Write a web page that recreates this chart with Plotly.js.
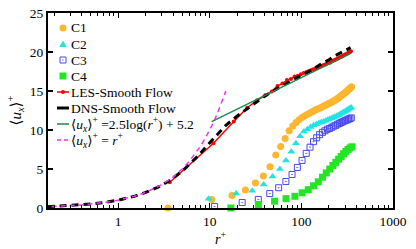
<!DOCTYPE html>
<html>
<head>
<meta charset="utf-8">
<script src="https://cdn.plot.ly/plotly-3.0.1.min.js"></script>
<style>html,body{margin:0;padding:0;background:#fff;}#chart{width:416px;height:249px;}</style>
</head>
<body>
<div id="chart"></div>
<script>
// C1 (orange circles)
const c1_r = [3.5,10.5,17.5,24.5,31.5,38.5,45.5,52.5,59.5,66.5,73.5,80.5,87.5,94.5,101.5,108.5,115.5,122.5,129.5,136.5,143.5,150.5,157.5,164.5,171.5,178.5,185.5,192.5,199.5,206.5,213.5,220.5,227.5,234.5,241.5,248.5,255.5,262.5,269.5,276.5,283.5,290.5,297.5,304.5,311.5,318.5,325.5,332.5,339.5,346.5,353.5];
const c1_u = [0,1.1,1.6,2.3,3.2,4.1,5.3,6.8,7.9,8.9,9.9,10.5,10.95,11.3,11.6,11.8,12.0,12.15,12.3,12.45,12.6,12.7,12.8,12.9,13.0,13.1,13.2,13.3,13.4,13.45,13.55,13.65,13.75,13.85,13.95,14.05,14.15,14.25,14.35,14.45,14.55,14.65,14.75,14.85,14.95,15.05,15.15,15.25,15.35,15.45,15.55];
// C2 (cyan triangles)
const c2_r = [9.7,19.4,29.1,38.8,48.5,58.2,67.9,77.6,87.3,97,106.7,116.4,126.1,135.8,145.5,155.2,164.9,174.6,184.3,194,203.7,213.4,223.1,232.8,242.5,252.2,261.9,271.6,281.3,291,300.7,310.4,320.1,329.8,339.5,349.2];
const c2_u = [1.2,1.85,2.2,3.0,4.05,5.0,6.1,7.2,8.3,9.2,9.8,10.1,10.4,10.6,10.75,10.9,11.0,11.1,11.2,11.3,11.4,11.5,11.6,11.7,11.8,11.9,12.0,12.1,12.2,12.3,12.4,12.5,12.6,12.7,12.8,12.9];
// C3 (blue open squares)
const c3_r = [11.3,22.6,33.9,45.2,56.5,67.8,79.1,90.4,101.7,113,124.3,135.6,146.9,158.2,169.5,180.8,192.1,203.4,214.7,226,237.3,248.6,259.9,271.2,282.5,293.8,305.1,316.4,327.7,339,350.3];
const c3_u = [0.2,0.7,1.1,1.85,2.6,3.4,4.3,5.2,6.1,7.0,7.8,8.5,9.0,9.4,9.7,9.9,10.1,10.2,10.35,10.5,10.6,10.75,10.85,10.95,11.05,11.15,11.25,11.3,11.4,11.45,11.55];
// C4 (green squares)
const c4_r = [17,34,51,68,85,102,119,136,153,170,187,204,221,238,255,272,289,306,323,340,357];
const c4_u = [0,0.45,0.87,1.2,1.5,1.95,2.35,2.85,3.35,3.95,4.5,5.0,5.45,5.85,6.25,6.6,6.95,7.25,7.5,7.7,7.85];
// LES smooth flow
const les_r = [3.66,10.98,18.3,25.6,32.9,40.3,47.6,54.9,62.2,69.5,76.9,84.2,91.5,98.8,106.1,113.5,120.8,128.1,135.4,142.7,150,157.4,164.7,172,179.3,186.6,193.9,201.3,208.6,215.9,223.2,230.5,237.8,245.2,252.5,259.8,267.1,274.4,281.7,289.1,296.4,303.7,311,318.3,325.6,333,340.3,347.6];
const les_u = [3.3,8.3,11.1,12.85,13.8,14.45,14.95,15.65,15.95,16.4,16.55,16.85,16.95,17.15,17.3,17.45,17.55,17.7,17.8,17.9,18.0,18.1,18.2,18.3,18.35,18.45,18.55,18.6,18.7,18.8,18.9,18.95,19.05,19.1,19.2,19.25,19.35,19.4,19.5,19.55,19.6,19.7,19.75,19.8,19.9,19.95,20.0,20.1];
// DNS smooth flow
const dns_r = [0.17,0.3,0.5,0.7,1,1.5,2,2.7,3.7,5,6,7.5,9.7,12,15,20,25,30,38.7,50,60,80,100,130,168,200,235,280,329,345];
const dns_u = [0.17,0.3,0.5,0.7,1,1.5,2,2.65,3.55,4.7,5.55,6.7,8.2,9.4,10.6,11.8,12.65,13.35,14.25,15.05,15.6,16.4,17.0,17.7,18.55,19.0,19.55,20.0,20.4,20.55];
// Log law line endpoints
const log_r = [10.5,350];
const log_u = [11.08,19.85];
// Viscous sublayer u+ = r+
const vis_r = [0.15,0.2,0.3,0.4,0.5,0.6,0.8,1,1.5,2,3,4,5,6,7,8,9,10,11,12,13,14,15];
const vis_u = [0.15,0.2,0.3,0.4,0.5,0.6,0.8,1,1.5,2,3,4,5,6,7,8,9,10,11,12,13,14,15];

const labels = ['C1','C2','C3','C4','LES-Smooth Flow','DNS-Smooth Flow',
  '⟨<i>u<sub>x</sub></i>⟩<sup>+</sup> =2.5log(<i>r</i><sup>+</sup>) + 5.2',
  '⟨<i>u<sub>x</sub></i>⟩<sup>+</sup> = <i>r</i><sup>+</sup>'];

const colors = {c1:'#FDB62F', c2:'#22E3E3', c3:'#4848F0', c4:'#22E622', les:'#FF0000', dns:'#000000', log:'#1E8A4A', vis:'#F032F0'};

const traces = [
  {x:c1_r,y:c1_u,name:labels[0],mode:'markers',type:'scatter',cliponaxis:false,
   marker:{symbol:'circle',size:7,color:colors.c1}},
  {x:c2_r,y:c2_u,name:labels[1],mode:'markers',type:'scatter',cliponaxis:false,
   marker:{symbol:'triangle-up',size:7,color:colors.c2}},
  {x:c3_r,y:c3_u,name:labels[2],mode:'markers',type:'scatter',cliponaxis:false,
   marker:{symbol:'square-open-dot',size:6,color:colors.c3,line:{width:1}}},
  {x:c4_r,y:c4_u,name:labels[3],mode:'markers',type:'scatter',cliponaxis:false,
   marker:{symbol:'square',size:7,color:colors.c4}},
  {x:les_r,y:les_u,name:labels[4],mode:'lines+markers',type:'scatter',
   line:{color:colors.les,width:1.5},marker:{symbol:'circle',size:4,color:colors.les}},
  {x:dns_r,y:dns_u,name:labels[5],mode:'lines',type:'scatter',
   line:{color:colors.dns,width:3,dash:'7px,5px'}},
  {x:log_r,y:log_u,name:labels[6],mode:'lines',type:'scatter',
   line:{color:colors.log,width:1.5}},
  {x:vis_r,y:vis_u,name:labels[7],mode:'lines',type:'scatter',
   line:{color:colors.vis,width:1.5,dash:'5px,4px'}}
];

// Custom legend (pixel-placed key inside the plot area)
const M = {l:48, r:23, t:13, b:41};
const PW = 416 - M.l - M.r, PH = 249 - M.t - M.b;
const px = v => (v - M.l) / PW;
const py = v => (249 - M.b - v) / PH;
const symX = 63, textX = 69;
const rows = [28, 44, 60, 76, 92, 108, 124, 140];
const base = (row) => ({xref:'paper', yref:'paper', xsizemode:'pixel', ysizemode:'pixel',
  xanchor: px(symX), yanchor: py(rows[row]), layer:'above'});
const shapes = [
  Object.assign(base(0), {type:'circle', x0:-3.5, x1:3.5, y0:-3.5, y1:3.5, fillcolor:colors.c1, line:{width:0}}),
  Object.assign(base(1), {type:'path', path:'M-3.8,-3 L3.8,-3 L0,3.6 Z', fillcolor:colors.c2, line:{width:0}}),
  Object.assign(base(2), {type:'rect', x0:-3, x1:3, y0:-3, y1:3, fillcolor:'rgba(0,0,0,0)', line:{color:colors.c3, width:1}}),
  Object.assign(base(2), {type:'rect', x0:-0.6, x1:0.6, y0:-0.6, y1:0.6, fillcolor:colors.c3, line:{width:0}}),
  Object.assign(base(3), {type:'rect', x0:-3.5, x1:3.5, y0:-3.5, y1:3.5, fillcolor:colors.c4, line:{width:0}}),
  Object.assign(base(4), {type:'line', x0:-6, x1:6, y0:0, y1:0, line:{color:colors.les, width:1.5}}),
  Object.assign(base(4), {type:'circle', x0:-2, x1:2, y0:-2, y1:2, fillcolor:colors.les, line:{width:0}}),
  Object.assign(base(5), {type:'line', x0:-6, x1:6, y0:0, y1:0, line:{color:colors.dns, width:3}}),
  Object.assign(base(6), {type:'line', x0:-6, x1:6, y0:0, y1:0, line:{color:colors.log, width:1.5}}),
  Object.assign(base(7), {type:'line', x0:-6, x1:6, y0:0, y1:0, line:{color:colors.vis, width:1.5, dash:'4px,3px'}})
];
const fontFam = '"Liberation Serif", "DejaVu Serif", serif';
const annotations = labels.map((t, i) => ({xref:'paper', yref:'paper', x: px(textX), y: py(rows[i]),
  xanchor:'left', yanchor:'middle', text:t, showarrow:false, align:'left',
  font:{family:fontFam, size:13.5, color:'#000'}}));

const layout = {
  width:416,height:249,
  margin:{l:M.l,r:M.r,t:M.t,b:M.b,pad:0},
  paper_bgcolor:'#fff',plot_bgcolor:'#fff',
  font:{family:fontFam,size:13,color:'#000'},
  showlegend:false,
  shapes:shapes,
  annotations:annotations,
  xaxis:{type:'log',range:[-0.765,3.0],showgrid:false,zeroline:false,
    showline:true,linecolor:'#000',linewidth:2,mirror:'allticks',
    ticks:'inside',ticklen:5,tickwidth:1.2,tickcolor:'#000',
    tickvals:[1,10,100,1000],ticktext:['1','10','100','1000'],
    minor:{ticks:'inside',ticklen:3,tickwidth:1,tickcolor:'#000',
      tickvals:[0.2,0.3,0.4,0.5,0.6,0.7,0.8,0.9,2,3,4,5,6,7,8,9,20,30,40,50,60,70,80,90,200,300,400,500,600,700,800,900],showgrid:false},
    tickfont:{family:fontFam,size:13.5},
    title:{text:'<i>r</i><sup>+</sup>',font:{family:fontFam,size:14},standoff:3}},
  yaxis:{range:[0,25],showgrid:false,zeroline:false,
    showline:true,linecolor:'#000',linewidth:2,mirror:'ticks',
    ticks:'inside',ticklen:5,tickwidth:1.2,tickcolor:'#000',
    tickvals:[0,5,10,15,20,25],
    tickfont:{family:fontFam,size:13.5},
    title:{text:'⟨<i>u<sub>x</sub></i>⟩<sup>+</sup>',font:{family:fontFam,size:15},standoff:5}}
};

Plotly.newPlot('chart',traces,layout,{displayModeBar:false,staticPlot:true});
</script>
</body>
</html>
